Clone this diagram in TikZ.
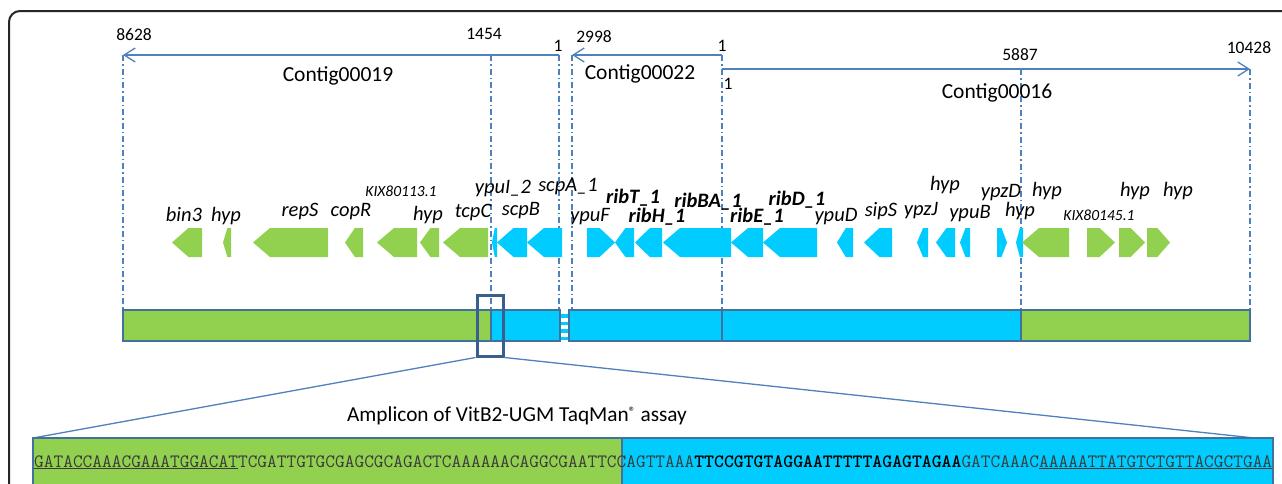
\documentclass[tikz,border=0pt]{standalone}
\usepackage{fontspec}
\setmainfont{Carlito}
\usetikzlibrary{arrows.meta}
\definecolor{gg}{HTML}{92D050}
\definecolor{cy}{HTML}{00CCFF}
\definecolor{bord}{HTML}{41719C}
\definecolor{lnk}{HTML}{4F81BD}
\definecolor{hbox}{HTML}{3A5F8F}
\definecolor{seqgray}{HTML}{3A3A3A}
\newcommand\geneL[3]{% color, tip x, end x
  \pgfmathsetmacro\hl{min(17,0.55*(#3-#2))}
  \fill[#1] (#2,242.5) -- (#2+\hl,228) -- (#3,228) -- (#3,257) -- (#2+\hl,257) -- cycle;}
\newcommand\geneR[3]{% color, start x, tip x
  \pgfmathsetmacro\hl{min(17,0.55*(#3-#2))}
  \fill[#1] (#3,242.5) -- (#3-\hl,228) -- (#2,228) -- (#2,257) -- (#3-\hl,257) -- cycle;}
\begin{document}
\begin{tikzpicture}[x=1pt,y=-1pt,
  glab/.style={font=\fontsize{20.5}{24}\selectfont\itshape, inner sep=0, anchor=base},
  gbold/.style={glab, font=\fontsize{20.5}{24}\selectfont\bfseries\itshape},
  gsmall/.style={font=\fontsize{15.5}{18}\selectfont\itshape, inner sep=0, anchor=base},
  num/.style={font=\fontsize{17.5}{20}\selectfont, inner sep=0},
  ctg/.style={font=\fontsize{21.5}{24}\selectfont, inner sep=0},
  contig/.style={lnk, line width=1.3pt, -{Straight Barb[length=11pt,width=14pt,line width=1.3pt]}},
  guide/.style={lnk, line width=1.1pt, dash pattern=on 6pt off 3pt on 1.5pt off 3pt},
  seg/.style={draw=bord, line width=1.3pt}]
\useasboundingbox (0,0) rectangle (1282,483);
\clip (0,0) rectangle (1282,483);
\fill[white] (0,0) rectangle (1282,483);
% outer frame
\draw[line width=2pt, rounded corners=11pt, black!85] (9,11) rectangle (1330,530);

% guide lines
\coordinate (g1t) at (123,55);  \coordinate (g1b) at (123,310);
\coordinate (g2t) at (491,55);  \coordinate (g2b) at (491,310);
\coordinate (g3t) at (559,55);  \coordinate (g3b) at (559,310);
\coordinate (g4t) at (572,55);  \coordinate (g4b) at (572,310);
\coordinate (g5t) at (722,55);  \coordinate (g5b) at (722,310);
\coordinate (g6t) at (1021,69); \coordinate (g6b) at (1021,310);
\coordinate (g7t) at (1250,69); \coordinate (g7b) at (1250,310);
\foreach \i in {1,...,7} {\draw[guide] (g\i t) -- (g\i b);}

% contig arrows
\draw[contig] (g3t) -- (g1t);
\draw[contig] (g5t) -- (g4t);
\coordinate (c16s) at (722,69);
\draw[contig] (c16s) -- (g7t);

% numbers
\node[num] (n8628) at (134,35) {8628};
\node[num] (n1454) at (484,34) {1454};
\node[num] (n1a) at (558,46) {1};
\node[num] (n2998) at (594,37) {2998};
\node[num] (n1b) at (722,46) {1};
\node[num] (n1c) at (728,84) {1};
\node[num] (n5887) at (1020,55) {5887};
\node[num] (n10428) at (1249,48) {10428};

% contig labels
\node[ctg] (lc19) at (338,76) {Contig00019};
\node[ctg] (lc22) at (640,74) {Contig00022};
\node[ctg] (lc16) at (997,93) {Contig00016};

% genes
\geneL{gg}{172}{202}
\geneL{gg}{223}{231}
\geneL{gg}{253}{328}
\geneL{gg}{345}{363}
\geneL{gg}{377}{417}
\geneL{gg}{420}{439}
\geneL{gg}{443}{488}
\geneL{cy}{492}{497}
\geneL{cy}{497}{527}
\geneL{cy}{527}{562}
\geneR{cy}{587}{615}
\geneL{cy}{615}{634}
\geneL{cy}{635}{662}
\geneL{cy}{663}{731}
\geneL{cy}{731}{763}
\geneL{cy}{763}{817}
\geneL{cy}{837}{853}
\geneL{cy}{864}{892}
\geneL{cy}{917}{928}
\geneL{cy}{936}{955}
\geneL{cy}{960}{970}
\geneR{cy}{997}{1007}
\geneL{cy}{1016}{1023}
\geneL{gg}{1022}{1069}
\geneR{gg}{1087}{1115}
\geneR{gg}{1119}{1145}
\geneR{gg}{1147}{1170}

% gene labels
\node[glab] (t1) at (184,221.5) {bin3};
\node[glab] (t2) at (226,221.5) {hyp};
\node[glab] (t3) at (300,216) {repS};
\node[glab] (t4) at (351,216) {copR};
\node[gsmall] (t5) at (401,196.5) {KIX80113.1};
\node[glab] (t6) at (428,220) {hyp};
\node[glab] (t7) at (473,217) {tcpC};
\node[glab] (t8) at (503,193) {ypuI\_2};
\node[glab] (t9) at (521,215) {scpB};
\node[glab] (t10) at (568,191) {scpA\_1};
\node[glab] (t11) at (590,221) {ypuF};
\node[gbold] (t12) at (633,203) {ribT\_1};
\node[gbold] (t13) at (657,222.5) {ribH\_1};
\node[gbold] (t14) at (708,207) {ribBA\_1};
\node[gbold] (t15) at (757,222) {ribE\_1};
\node[gbold] (t16) at (797,205) {ribD\_1};
\node[glab] (t17) at (836,221) {ypuD};
\node[glab] (t18) at (881,216) {sipS};
\node[glab] (t19) at (921,215) {ypzJ};
\node[glab] (t20) at (945,190) {hyp};
\node[glab] (t21) at (970,218) {ypuB};
\node[glab] (t22) at (1001,197) {ypzD};
\node[glab] (t23) at (1020,216) {hyp};
\node[glab] (t24) at (1047,196) {hyp};
\node[gsmall] (t25) at (1099,220.5) {KIX80145.1};
\node[glab] (t26) at (1135,196) {hyp};
\node[glab] (t27) at (1178,196) {hyp};

% bar
\draw[seg, fill=gg] (123,310) rectangle (491,341);
\draw[seg, fill=cy] (491,310) rectangle (560,341);
\draw[seg, fill=cy] (569,310) rectangle (722,341);
\draw[seg, fill=cy] (722,310) rectangle (1021,341);
\draw[seg, fill=gg] (1021,310) rectangle (1250,341);
\fill[white] (561,309) rectangle (568,342);
\foreach \yy in {314,321.5,329,336.5} \fill[cy] (561,\yy) rectangle (568,\yy+3.5);

% highlight box and zoom lines
\node[draw=hbox, line width=3pt, minimum width=26pt, minimum height=61pt, inner sep=0] (hb) at (490,325.5) {};
\coordinate (amL) at (33,438);
\coordinate (amR) at (1273,440);
\draw[lnk, line width=1.3pt] (hb.south west) -- (amL);
\draw[lnk, line width=1.3pt] (hb.south east) -- (amR);

% amplicon label
\node[font=\fontsize{21.3}{24}\selectfont, inner sep=0] (alab) at (517,416) {Amplicon of VitB2-UGM TaqMan\raisebox{0.55ex}{\fontsize{13.5}{14}\selectfont\textregistered} assay};

% amplicon box
\draw[seg, fill=gg] (amL) rectangle (622,520);
\draw[seg, fill=cy] (622,438) rectangle (1273,520);
\node[anchor=base west, inner sep=0, text=seqgray, font=\ttfamily\fontsize{18.85}{20}\selectfont] (seq) at (34,467)
  {\underline{GATACCAAACGAAATGGACAT}TCGATTGTGCGAGCGCAGACTCAAAAAACAGGCGAATTCCAGTTAAA\textcolor{black}{\textbf{TTCCGTGTAGGAATTTTTAGAGTAGAA}}GATCAAAC\underline{AAAAATTATGTCTGTTACGCTGAA}};
\end{tikzpicture}
\end{document}
